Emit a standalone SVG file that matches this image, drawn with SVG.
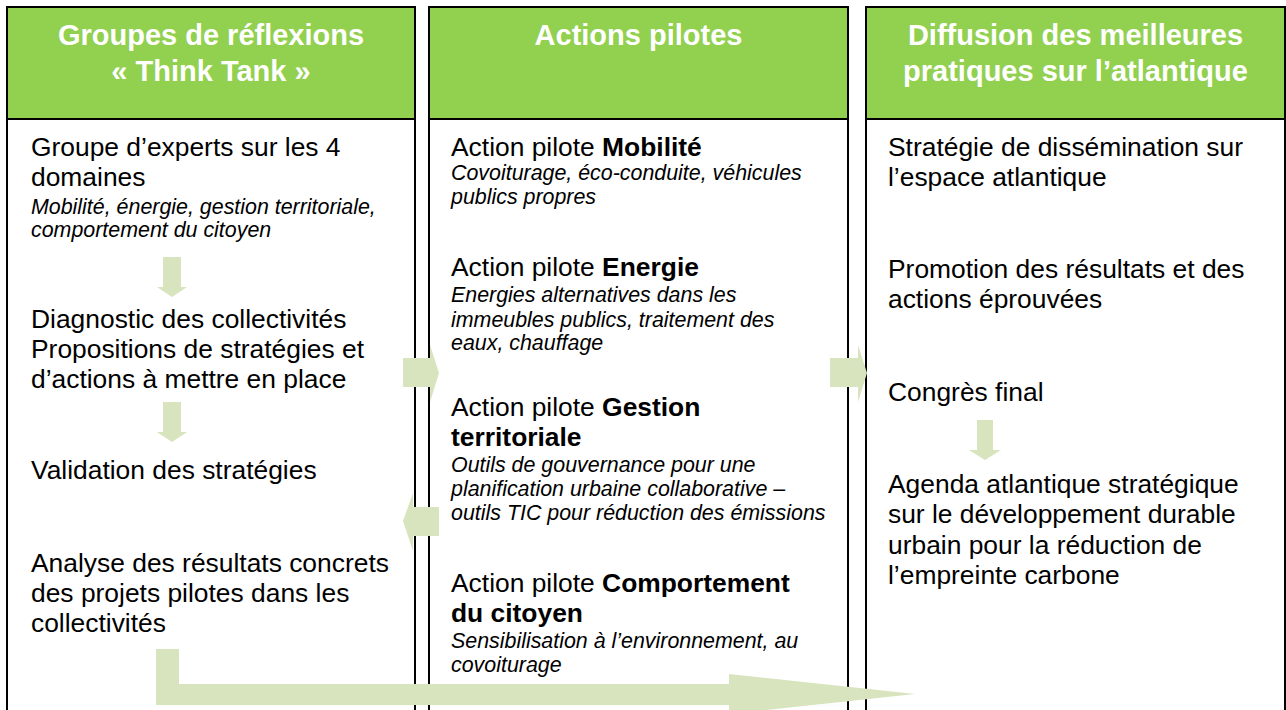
<svg xmlns="http://www.w3.org/2000/svg" width="1286" height="710" viewBox="0 0 1286 710">
<style>
.box{fill:#fff;stroke:#000;stroke-width:2}
.hdr{fill:#92D050;stroke:#000;stroke-width:2}
.ht{font-family:"Liberation Sans",Arial,sans-serif;font-weight:bold;font-size:29px;fill:#fff;text-anchor:middle}
.t{font-family:"Liberation Sans",Arial,sans-serif;font-size:26.4px;fill:#000}
.i{font-family:"Liberation Sans",Arial,sans-serif;font-size:21.4px;font-style:italic;fill:#000}
.b{font-weight:bold}
.arr{fill:#D7E4BD}
</style>
<rect width="1286" height="710" fill="#fff"/>
<g id="col1">
<rect class="box" x="7" y="7" width="408" height="720"/>
<rect class="hdr" x="7" y="7" width="408" height="112"/>
<text class="ht" x="211" y="45">Groupes de réflexions</text>
<text class="ht" x="211" y="81">« Think Tank »</text>
<text class="t" x="31" y="156">Groupe d’experts sur les 4</text>
<text class="t" x="31" y="186">domaines</text>
<text class="i" x="31" y="214">Mobilité, énergie, gestion territoriale,</text>
<text class="i" x="31" y="237">comportement du citoyen</text>
<text class="t" x="31" y="328">Diagnostic des collectivités</text>
<text class="t" x="31" y="358">Propositions de stratégies et</text>
<text class="t" x="31" y="388">d’actions à mettre en place</text>
<text class="t" x="31" y="479">Validation des stratégies</text>
<text class="t" x="31" y="572">Analyse des résultats concrets</text>
<text class="t" x="31" y="602">des projets pilotes dans les</text>
<text class="t" x="31" y="632">collectivités</text>
</g>
<g id="col2">
<rect class="box" x="429" y="7" width="419" height="720"/>
<rect class="hdr" x="429" y="7" width="419" height="112"/>
<text class="ht" x="638.5" y="45">Actions pilotes</text>
<text class="t" x="451" y="156">Action pilote <tspan class="b">Mobilité</tspan></text>
<text class="i" x="451" y="180">Covoiturage, éco-conduite, véhicules</text>
<text class="i" x="451" y="204">publics propres</text>
<text class="t" x="451" y="276">Action pilote <tspan class="b">Energie</tspan></text>
<text class="i" x="451" y="302">Energies alternatives dans les</text>
<text class="i" x="451" y="327">immeubles publics, traitement des</text>
<text class="i" x="451" y="350">eaux, chauffage</text>
<text class="t" x="451" y="416">Action pilote <tspan class="b">Gestion</tspan></text>
<text class="t b" x="451" y="446">territoriale</text>
<text class="i" x="451" y="472">Outils de gouvernance pour une</text>
<text class="i" x="451" y="496">planification urbaine collaborative –</text>
<text class="i" x="451" y="520">outils TIC pour réduction des émissions</text>
<text class="t" x="451" y="592">Action pilote <tspan class="b">Comportement</tspan></text>
<text class="t b" x="451" y="622">du citoyen</text>
<text class="i" x="451" y="648">Sensibilisation à l’environnement, au</text>
<text class="i" x="451" y="672">covoiturage</text>
</g>
<g id="col3">
<rect class="box" x="866" y="7" width="419" height="720"/>
<rect class="hdr" x="866" y="7" width="419" height="112"/>
<text class="ht" x="1075.5" y="45">Diffusion des meilleures</text>
<text class="ht" x="1075.5" y="81">pratiques sur l’atlantique</text>
<text class="t" x="888" y="156">Stratégie de dissémination sur</text>
<text class="t" x="888" y="186">l’espace atlantique</text>
<text class="t" x="888" y="278">Promotion des résultats et des</text>
<text class="t" x="888" y="308">actions éprouvées</text>
<text class="t" x="888" y="401">Congrès final</text>
<text class="t" x="888" y="493">Agenda atlantique stratégique</text>
<text class="t" x="888" y="523">sur le développement durable</text>
<text class="t" x="888" y="554">urbain pour la réduction de</text>
<text class="t" x="888" y="584">l’empreinte carbone</text>
</g>
<g id="connectors">
<polygon class="arr" points="163,257 181,257 181,287 187,287 172,297 157,287 163,287"/>
<polygon class="arr" points="163,402 181,402 181,432 187,432 172,442 157,432 163,432"/>
<polygon class="arr" points="977,420 993,420 993,450 1001,450 985,460 969,450 977,450"/>
<polygon class="arr" points="403,358 430,358 430,345 439,373 430,402 430,387 403,387"/>
<polygon class="arr" points="830,358 858,358 858,345 867,373 858,402 858,387 830,387"/>
<polygon class="arr" points="439,507 413,507 413,493 403,521 413,551 413,536 439,536"/>
<polygon class="arr" points="156,649 179,649 179,684 729,684 729,674 915,694 729,714 729,705 156,705"/>
</g>
</svg>
